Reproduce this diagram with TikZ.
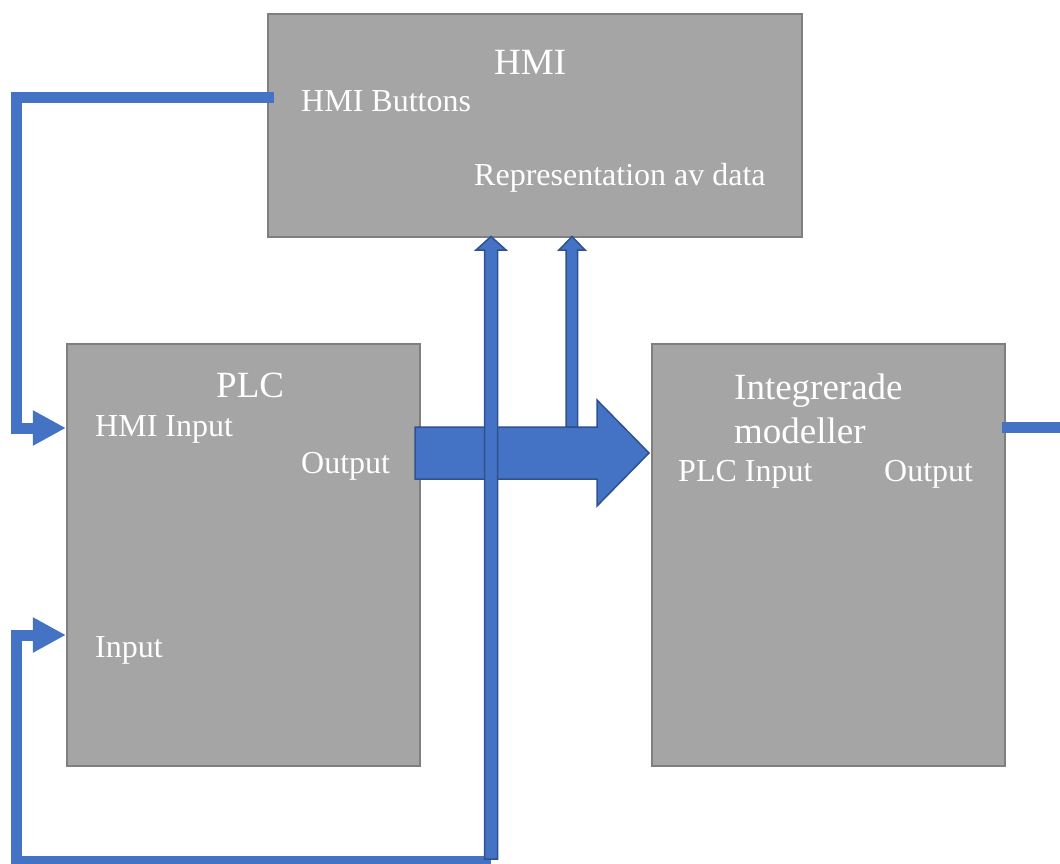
\documentclass[tikz,border=0pt]{standalone}
\usepackage{fontspec}
\setmainfont{Liberation Serif}
\usetikzlibrary{arrows.meta}
\definecolor{boxgray}{HTML}{A5A5A5}
\definecolor{boxedge}{HTML}{7F7F7F}
\definecolor{flowblue}{HTML}{4472C4}
\definecolor{flowedge}{HTML}{2F528F}
\tikzset{
  block/.style={draw=boxedge, fill=boxgray, line width=2.2pt, inner sep=0pt},
  title/.style={text=white, inner sep=0pt, anchor=base west, font=\fontsize{37}{44}\selectfont, align=left},
  label/.style={text=white, inner sep=0pt, anchor=base west, font=\fontsize{32}{38}\selectfont},
  wire/.style={draw=flowblue, line width=11pt},
  wirearrow/.style={wire, -{Triangle[length=33pt,width=33pt]}},
  blockarrow/.style={fill=flowblue, draw=flowedge, line width=1.5pt, line join=miter}
}
\begin{document}
\begin{tikzpicture}[x=1pt, y=-1pt]
  \useasboundingbox (0,0) rectangle (1060,863);

  % the three blocks
  \node[block, minimum width=534pt, minimum height=223pt] (hmi) at (535,125.5) {};
  \node[block, minimum width=353pt, minimum height=422pt] (plc) at (243.5,555) {};
  \node[block, minimum width=353pt, minimum height=422pt] (im) at (828.5,555) {};

  % block texts
  \node[title] (hmititle) at (494,74) {HMI};
  \node[label] (hmibtn) at (301,111) {HMI Buttons};
  \node[label] (hmirep) at (474,185) {Representation av data};

  \node[title] (plctitle) at (216,397) {PLC};
  \node[label] (plchmi) at (95,436) {HMI Input};
  \node[label] (plcout) at (301,473) {Output};
  \node[label] (plcin) at (95,657) {Input};

  % base anchor of a two-line node sits on its last line
  \node[title] (imtitle) at (734,443) {Integrerade\\modeller};
  \node[label] (imin) at (678,481) {PLC Input};
  \node[label] (imout) at (884,481) {Output};

  % wires
  \coordinate (btnstart) at (274,97);
  \coordinate (busend) at (491,861);
  \coordinate (outend) at (1060,427);

  \draw[wirearrow] (btnstart) -- (16,97) |- (plc.west |- 0,428);
  \draw[wirearrow] (busend) -| (16,635) -- (plc.west |- 0,635);
  \draw[wire] ([xshift=-4pt]im.east |- outend) -- (outend);

  % data arrow up to the HMI
  \draw[blockarrow] (566,427) -- (566,250) -- (559,250) -- (572,236.5) -- (585,250)
    -- (577.5,250) -- (577.5,427) -- cycle;

  % PLC output to the models
  \draw[blockarrow] (415,427) -- (597,427) -- (597,400) -- (649,453) -- (597,506)
    -- (597,479) -- (415,479) -- cycle;

  % bus arrow up to the HMI
  \draw[blockarrow] (484.5,859) -- (484.5,250) -- (476,250) -- (491,236.5) -- (506,250)
    -- (497.5,250) -- (497.5,859) -- cycle;
\end{tikzpicture}
\end{document}
